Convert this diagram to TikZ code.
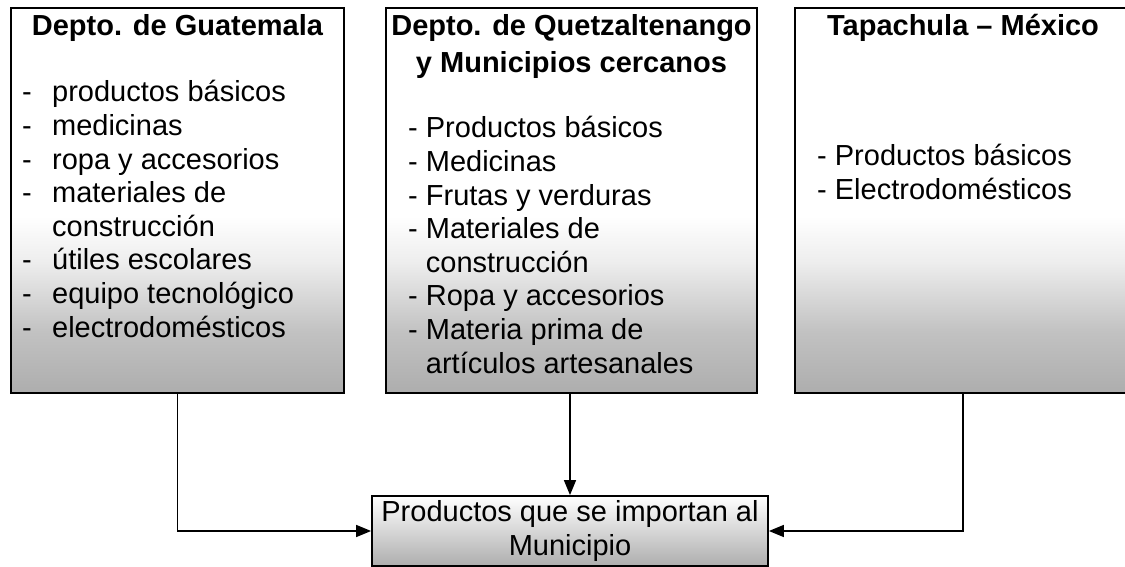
\documentclass[tikz,border=0pt]{standalone}
\usepackage{fontspec}
\setmainfont{Liberation Sans}
\usepackage{tikz}
\usetikzlibrary{arrows.meta}
\pgfdeclareverticalshading{photofade}{100bp}{color(0bp)=(black!34); color(25bp)=(black!32); color(33bp)=(black!24); color(42bp)=(black!7); color(48bp)=(white); color(100bp)=(white)}

\begin{document}
\begin{tikzpicture}[x=1pt,y=-1pt,
  box/.style={draw=black,line width=1.8pt,inner sep=0pt,shade,shading=photofade},
  munibox/.style={draw=black,line width=1.8pt,inner sep=0pt,top color=white,middle color=black!4,bottom color=black!32,align=center,font=\fontsize{29pt}{33.6pt}\selectfont},
  head/.style={inner sep=0pt,font=\bfseries\fontsize{29pt}{36.5pt}\selectfont},
  items/.style={inner sep=0pt,font=\fontsize{29pt}{33.6pt}\selectfont},
  link/.style={line width=1.6pt,-{Triangle[length=15pt,width=12pt]}}]
  \useasboundingbox (0,0) rectangle (1125,567);
  \node[box,minimum width=333pt,minimum height=385pt] (guate) at (177.5,200.5) {};
  \node[box,minimum width=371pt,minimum height=385pt] (quetz) at (571.5,200.5) {};
  \node[box,minimum width=336pt,minimum height=385pt] (tapa) at (963,200.5) {};
  \node[munibox,minimum width=396pt,minimum height=70pt] (muni) at (570,531) {Productos que se importan al\\Municipio};
  \node[head,anchor=base] (guatehead) at (177.5,36) {Depto. de Guatemala};
  \node[head,anchor=base] (quetzhead) at (571.5,36) {\begin{tabular}[t]{@{}c@{}}Depto. de Quetzaltenango\\y Municipios cercanos\end{tabular}};
  \node[head,anchor=base] (tapahead) at (963,36) {Tapachula – México};
  \node[items,anchor=base west] (guatelist) at (22,102) {\begin{tabular}[t]{@{}l@{\hspace{20.3pt}}l@{}}
    -&productos básicos\\
    -&medicinas\\
    -&ropa y accesorios\\
    -&materiales de\\
     &construcción\\
    -&útiles escolares\\
    -&equipo tecnológico\\
    -&electrodomésticos
  \end{tabular}};
  \node[items,anchor=base west] (quetzlist) at (408,138) {\begin{tabular}[t]{@{}l@{}}
    - Productos básicos\\
    - Medicinas\\
    - Frutas y verduras\\
    - Materiales de\\
    \phantom{- }construcción\\
    - Ropa y accesorios\\
    - Materia prima de\\
    \phantom{- }artículos artesanales
  \end{tabular}};
  \node[items,anchor=base west] (tapalist) at (817,166) {\begin{tabular}[t]{@{}l@{}}
    - Productos básicos\\
    - Electrodomésticos
  \end{tabular}};
  \draw[link] (guate.south) |- (muni.west);
  \draw[link] (muni.north |- quetz.south) to (muni.north);
  \draw[link] (tapa.south) |- (muni.east);
\end{tikzpicture}
\end{document}
